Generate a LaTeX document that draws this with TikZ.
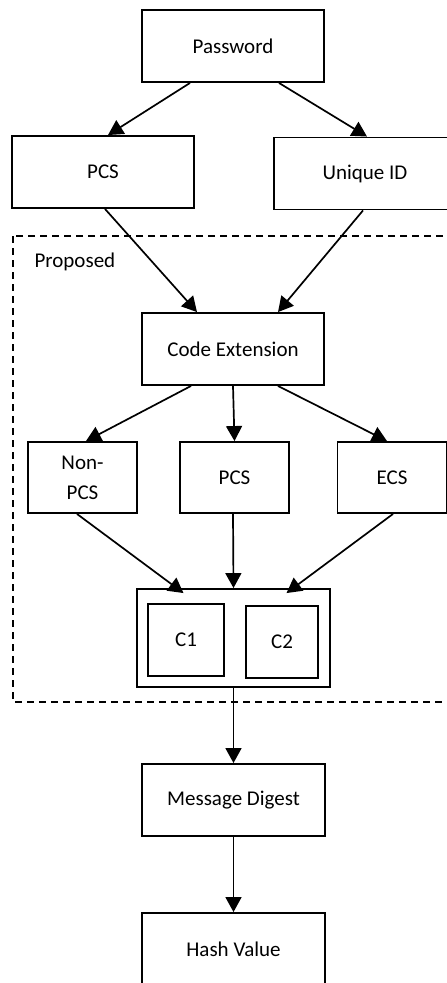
\documentclass[tikz,border=0pt]{standalone}
\usepackage{fontspec}
\setmainfont{Carlito}
\usetikzlibrary{arrows.meta}

\tikzset{
  blk/.style={draw, line width=1.9pt, align=center, inner sep=0pt, minimum width=182pt, minimum height=72pt, font=\fontsize{21}{30}\selectfont},
  sblk/.style={blk, minimum width=109pt, minimum height=71pt},
  flow/.style={line width=1.7pt, -{Triangle[length=15pt,width=16pt]}},
}

\begin{document}
\begin{tikzpicture}[x=1pt, y=-1pt]
    \clip (0,0) rectangle (447,983);
    \draw[line width=1.5pt, dash pattern=on 7pt off 5pt] (13,236) rectangle (470,702);
    \node[anchor=west, font=\fontsize{21}{25}\selectfont] (prop) at (31,262) {Proposed};

    \node[blk] (pwd) at (233,46) {Password};
    \node[blk] (pcs) at (103,172) {PCS};
    \node[blk] (uid) at (365,173.5) {Unique ID};
    \node[blk] (cext) at (233,349) {Code Extension};
    \node[sblk] (npcs) at (82.5,477.5) {Non-\\PCS};
    \node[sblk] (pcsb) at (234.5,477.5) {PCS};
    \node[sblk] (ecs) at (392,477.5) {ECS};
    \node[blk, minimum width=193pt, minimum height=98pt] (cbox) at (233.5,638) {};
    \node[blk, minimum width=76pt] (cone) at (186,640) {C1};
    \node[blk, minimum width=72pt] (ctwo) at (282,642) {C2};
    \node[blk, minimum width=183pt] (mdig) at (233.5,800) {Message Digest};
    \node[blk, minimum width=183pt] (hval) at (233.5,949) {Hash Value};

    \draw[flow] ([xshift=-43pt]pwd.south) -- ([xshift=5pt]pcs.north);
    \draw[flow] ([xshift=46pt]pwd.south) -- ([xshift=2pt]uid.north);
    \draw[flow] ([xshift=2pt]pcs.south) -- ([xshift=-36pt]cext.north);
    \draw[flow] ([xshift=-2pt]uid.south) -- ([xshift=45pt]cext.north);
    \draw[flow] ([xshift=-42pt]cext.south) -- ([xshift=3.5pt]npcs.north);
    \draw[flow] (cext.south) -- (pcsb.north);
    \draw[flow] ([xshift=45pt]cext.south) -- ([xshift=-5pt]ecs.north);
    \draw[flow] ([xshift=-5.5pt]npcs.south) -- ([xshift=-50pt,yshift=-5pt]cbox.north);
    \draw[flow] ([xshift=-1.5pt]pcsb.south) -- (cbox.north);
    \draw[flow] ([xshift=1pt]ecs.south) -- ([xshift=53pt,yshift=-5pt]cbox.north);
    \draw[flow] (cbox.south) -- (mdig.north);
    \draw[flow] (mdig.south) -- (hval.north);
\end{tikzpicture}
\end{document}
